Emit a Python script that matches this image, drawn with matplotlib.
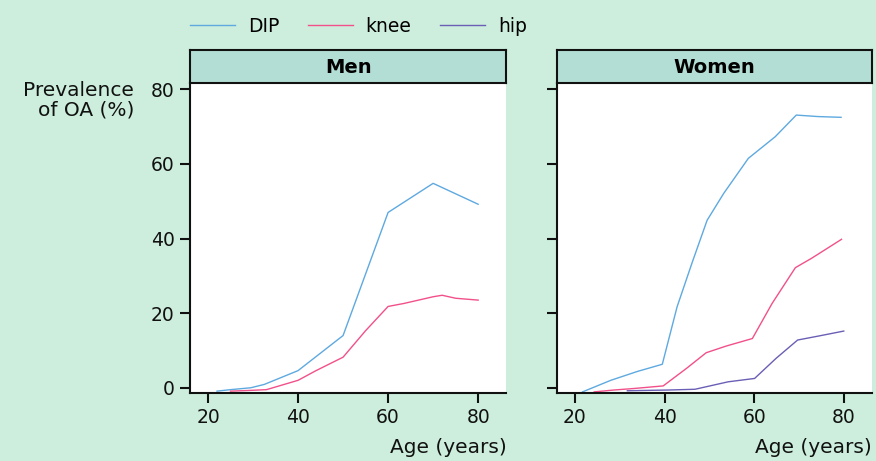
import numpy as np
import matplotlib
matplotlib.use("Agg")
import matplotlib.pyplot as plt

# prevalence of OA (%) by age
men_dip_age = [22, 25, 29.5, 32.5, 40, 50, 60, 70, 80]
men_dip = [-0.9, -0.5, 0.0, 0.9, 4.6, 14.0, 47.0, 54.8, 49.2]
men_knee_age = [25, 29.5, 33, 40, 44, 50, 55, 60, 63.5, 70, 72, 75, 80]
men_knee = [-0.9, -0.7, -0.5, 2.0, 4.6, 8.2, 15.3, 21.8, 22.6, 24.4, 24.8, 24.0, 23.5]

women_dip_age = [21.7, 28, 34, 39.5, 42.8, 46.2, 49.5, 53.2, 58.7, 64.7, 69.4, 74.3, 79.4]
women_dip = [-1.1, 2.0, 4.4, 6.3, 21.7, 33.7, 44.9, 52.1, 61.5, 67.3, 73.1, 72.7, 72.5]
women_knee_age = [24.3, 28.7, 33.1, 39.7, 44.9, 49.3, 53.8, 59.6, 64, 69.2, 72.8, 79.5]
women_knee = [-1.1, -0.6, -0.2, 0.5, 5.2, 9.4, 11.2, 13.2, 22.6, 32.2, 34.7, 39.8]
women_hip_age = [31.7, 40.9, 46.8, 54.2, 60.1, 64.9, 69.7, 74.5, 80]
women_hip = [-0.8, -0.6, -0.4, 1.6, 2.5, 7.9, 12.8, 13.9, 15.2]

panels = ["Men", "Women"]
x_ticks = [20, 40, 60, 80]
y_ticks = [0, 20, 40, 60, 80]

BG = "#cdeedd"
STRIP = "#b3ded5"
C_DIP = "#5ea9e0"
C_KNEE = "#f2508a"
C_HIP = "#6a5fb5"

plt.rcParams["font.family"] = ["DejaVu Sans"]
plt.rcParams["font.size"] = 13

W, H = 876, 461
fig = plt.figure(figsize=(W / 100, H / 100), dpi=100, facecolor=BG)


def px_box(x0, y0, x1, y1):
    return [x0 / W, 1 - y1 / H, (x1 - x0) / W, (y1 - y0) / H]


boxes = [(190, 83, 506.5, 393), (557, 83, 872, 393)]
series = [
    [(men_dip_age, men_dip, C_DIP, "DIP"), (men_knee_age, men_knee, C_KNEE, "knee")],
    [(women_dip_age, women_dip, C_DIP, "DIP"), (women_knee_age, women_knee, C_KNEE, "knee"),
     (women_hip_age, women_hip, C_HIP, "hip")],
]

handles = None
for i, (name, (x0, y0, x1, y1)) in enumerate(zip(panels, boxes)):
    ax = fig.add_axes(px_box(x0, y0, x1, y1))
    ax.set_facecolor("white")
    lines = []
    for xs, ys, c, lab in series[i]:
        ln, = ax.plot(xs, ys, color=c, lw=1.0, label=lab)
        lines.append(ln)
    if i == 1:
        handles = lines
    ax.set_xlim(16.0, 86.3)
    ax.set_ylim(-1.4, 81.7)
    ax.set_xticks(x_ticks)
    ax.set_yticks(y_ticks)
    if i == 1:
        ax.set_yticklabels([])
    for s in ["top", "right"]:
        ax.spines[s].set_visible(False)
    for s in ["left", "bottom"]:
        ax.spines[s].set_linewidth(1.5)
        ax.spines[s].set_color("#111111")
    ax.tick_params(direction="out", length=7, width=1.5, color="#111111",
                   labelsize=13.5, pad=4, labelcolor="#111111")
    ax.set_xlabel("Age (years)", loc="right", fontsize=14.5, color="#111111", labelpad=8)

    # strip header
    sx = fig.add_axes(px_box(x0, 50, x1, 83))
    sx.set_facecolor(STRIP)
    sx.set_xticks([])
    sx.set_yticks([])
    for s in sx.spines.values():
        s.set_linewidth(1.5)
        s.set_color("#111111")
    sx.text(0.5, 0.48, name, ha="center", va="center", fontsize=14,
            fontweight="bold", transform=sx.transAxes)

fig.text(134 / W, 1 - 100 / H, "Prevalence\nof OA (%)", ha="right", va="center",
         fontsize=14.5, color="#111111", linespacing=1.0, multialignment="right")

fig.legend(handles=handles, labels=["DIP", "knee", "hip"], loc="center left",
           bbox_to_anchor=(173 / W, 1 - 26 / H), ncol=3, frameon=False,
           handlelength=2.4, handletextpad=0.7, columnspacing=1.5, fontsize=13.5)

fig.savefig("out.png", dpi=100, facecolor=BG)
